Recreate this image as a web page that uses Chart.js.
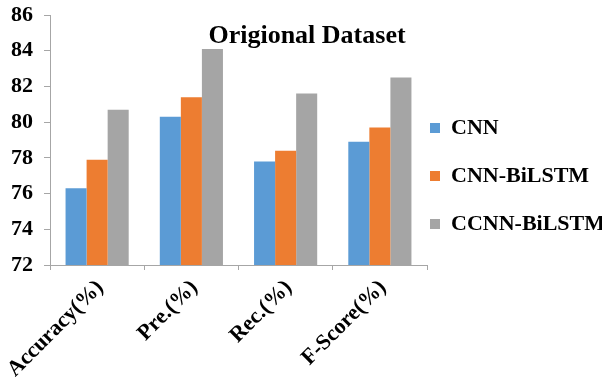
<!DOCTYPE html>
<html>
<head>
<meta charset="utf-8">
<script src="https://cdn.jsdelivr.net/npm/chart.js@4/dist/chart.umd.min.js"></script>
<style>
  html, body { margin: 0; padding: 0; background: #ffffff; }
  canvas { display: block; }
</style>
</head>
<body>
<canvas id="chart" width="602" height="381"></canvas>
<script>
// Metric categories on the x axis
const categories = ['Accuracy(%)', 'Pre.(%)', 'Rec.(%)', 'F-Score(%)'];

// Model names and their scores per metric
const seriesNames = ['CNN', 'CNN-BiLSTM', 'CCNN-BiLSTM'];
const cnnScores = [76.3, 80.3, 77.8, 78.9];
const cnnBiLstmScores = [77.9, 81.4, 78.4, 79.7];
const ccnnBiLstmScores = [80.7, 84.1, 81.6, 82.5];

// Value axis ticks
const yTicks = [72, 74, 76, 78, 80, 82, 84, 86];

const chartTitle = 'Origional Dataset';

const seriesColors = ['#5B9BD5', '#ED7D31', '#A5A5A5'];
const axisColor = '#A6A6A6';
const serif = "'Liberation Serif', 'Times New Roman', serif";

// Title drawn inside the plot area, above the bars
const overlayTitle = {
  id: 'overlayTitle',
  afterDatasetsDraw(chart, args, opts) {
    const ctx = chart.ctx;
    ctx.save();
    ctx.font = opts.font;
    ctx.fillStyle = opts.color;
    ctx.textAlign = 'center';
    ctx.textBaseline = 'alphabetic';
    ctx.fillText(opts.text, chart.width * opts.xFrac, chart.chartArea.top + opts.dy);
    ctx.restore();
  }
};

// Keep the legend compact and tucked close to the plot area
const legendLayout = {
  id: 'legendLayout',
  beforeLayout(chart, args, opts) {
    const lg = chart.legend;
    if (lg && !lg._compactFit) {
      const fit = lg.fit;
      lg.fit = function () {
        fit.call(this);
        this.width = opts.width;
      };
      lg._compactFit = true;
    }
  },
  afterLayout(chart, args, opts) {
    const lg = chart.legend;
    lg.left += opts.dx;
    lg.top += opts.dy;
    lg.bottom += opts.dy;
  }
};

new Chart(document.getElementById('chart'), {
  type: 'bar',
  data: {
    labels: categories,
    datasets: [
      { label: seriesNames[0], data: cnnScores, backgroundColor: seriesColors[0] },
      { label: seriesNames[1], data: cnnBiLstmScores, backgroundColor: seriesColors[1] },
      { label: seriesNames[2], data: ccnnBiLstmScores, backgroundColor: seriesColors[2] }
    ]
  },
  plugins: [overlayTitle, legendLayout],
  options: {
    responsive: false,
    animation: false,
    events: [],
    layout: { padding: { top: 15, bottom: 0, left: 0, right: 0 } },
    datasets: {
      bar: { categoryPercentage: 0.67, barPercentage: 1.0, borderWidth: 0 }
    },
    scales: {
      x: {
        offset: true,
        grid: {
          offset: true,
          drawOnChartArea: false,
          drawTicks: true,
          tickLength: 5,
          color: axisColor
        },
        border: { color: axisColor, width: 1 },
        ticks: {
          minRotation: 45,
          maxRotation: 45,
          padding: 5,
          labelOffset: 3,
          color: '#000000',
          font: { family: serif, weight: 'bold', size: 22 }
        },
        afterFit(scale) {
          scale.height = 116;
          scale.paddingLeft = 0;
          scale.paddingRight = 0;
        }
      },
      y: {
        min: yTicks[0],
        max: yTicks[yTicks.length - 1],
        afterBuildTicks(scale) {
          scale.ticks = yTicks.map(v => ({ value: v }));
        },
        grid: {
          drawOnChartArea: false,
          drawTicks: true,
          tickLength: 6,
          color: axisColor
        },
        border: { color: axisColor, width: 1 },
        ticks: {
          padding: 11,
          color: '#000000',
          font: { family: serif, weight: 'bold', size: 22 }
        },
        afterFit(scale) {
          scale.width = 50;
          scale.paddingTop = 0;
        }
      }
    },
    plugins: {
      legend: {
        position: 'right',
        labels: {
          boxWidth: 10,
          boxHeight: 10,
          padding: 26,
          color: '#000000',
          font: { family: serif, weight: 'bold', size: 22 }
        }
      },
      tooltip: { enabled: false },
      title: { display: false },
      overlayTitle: {
        text: chartTitle,
        font: "bold 26px 'Liberation Serif', 'Times New Roman', serif",
        color: '#000000',
        xFrac: 0.51,
        dy: 28
      },
      legendLayout: { width: 175, dx: -23, dy: -22 }
    }
  }
});
</script>
</body>
</html>
